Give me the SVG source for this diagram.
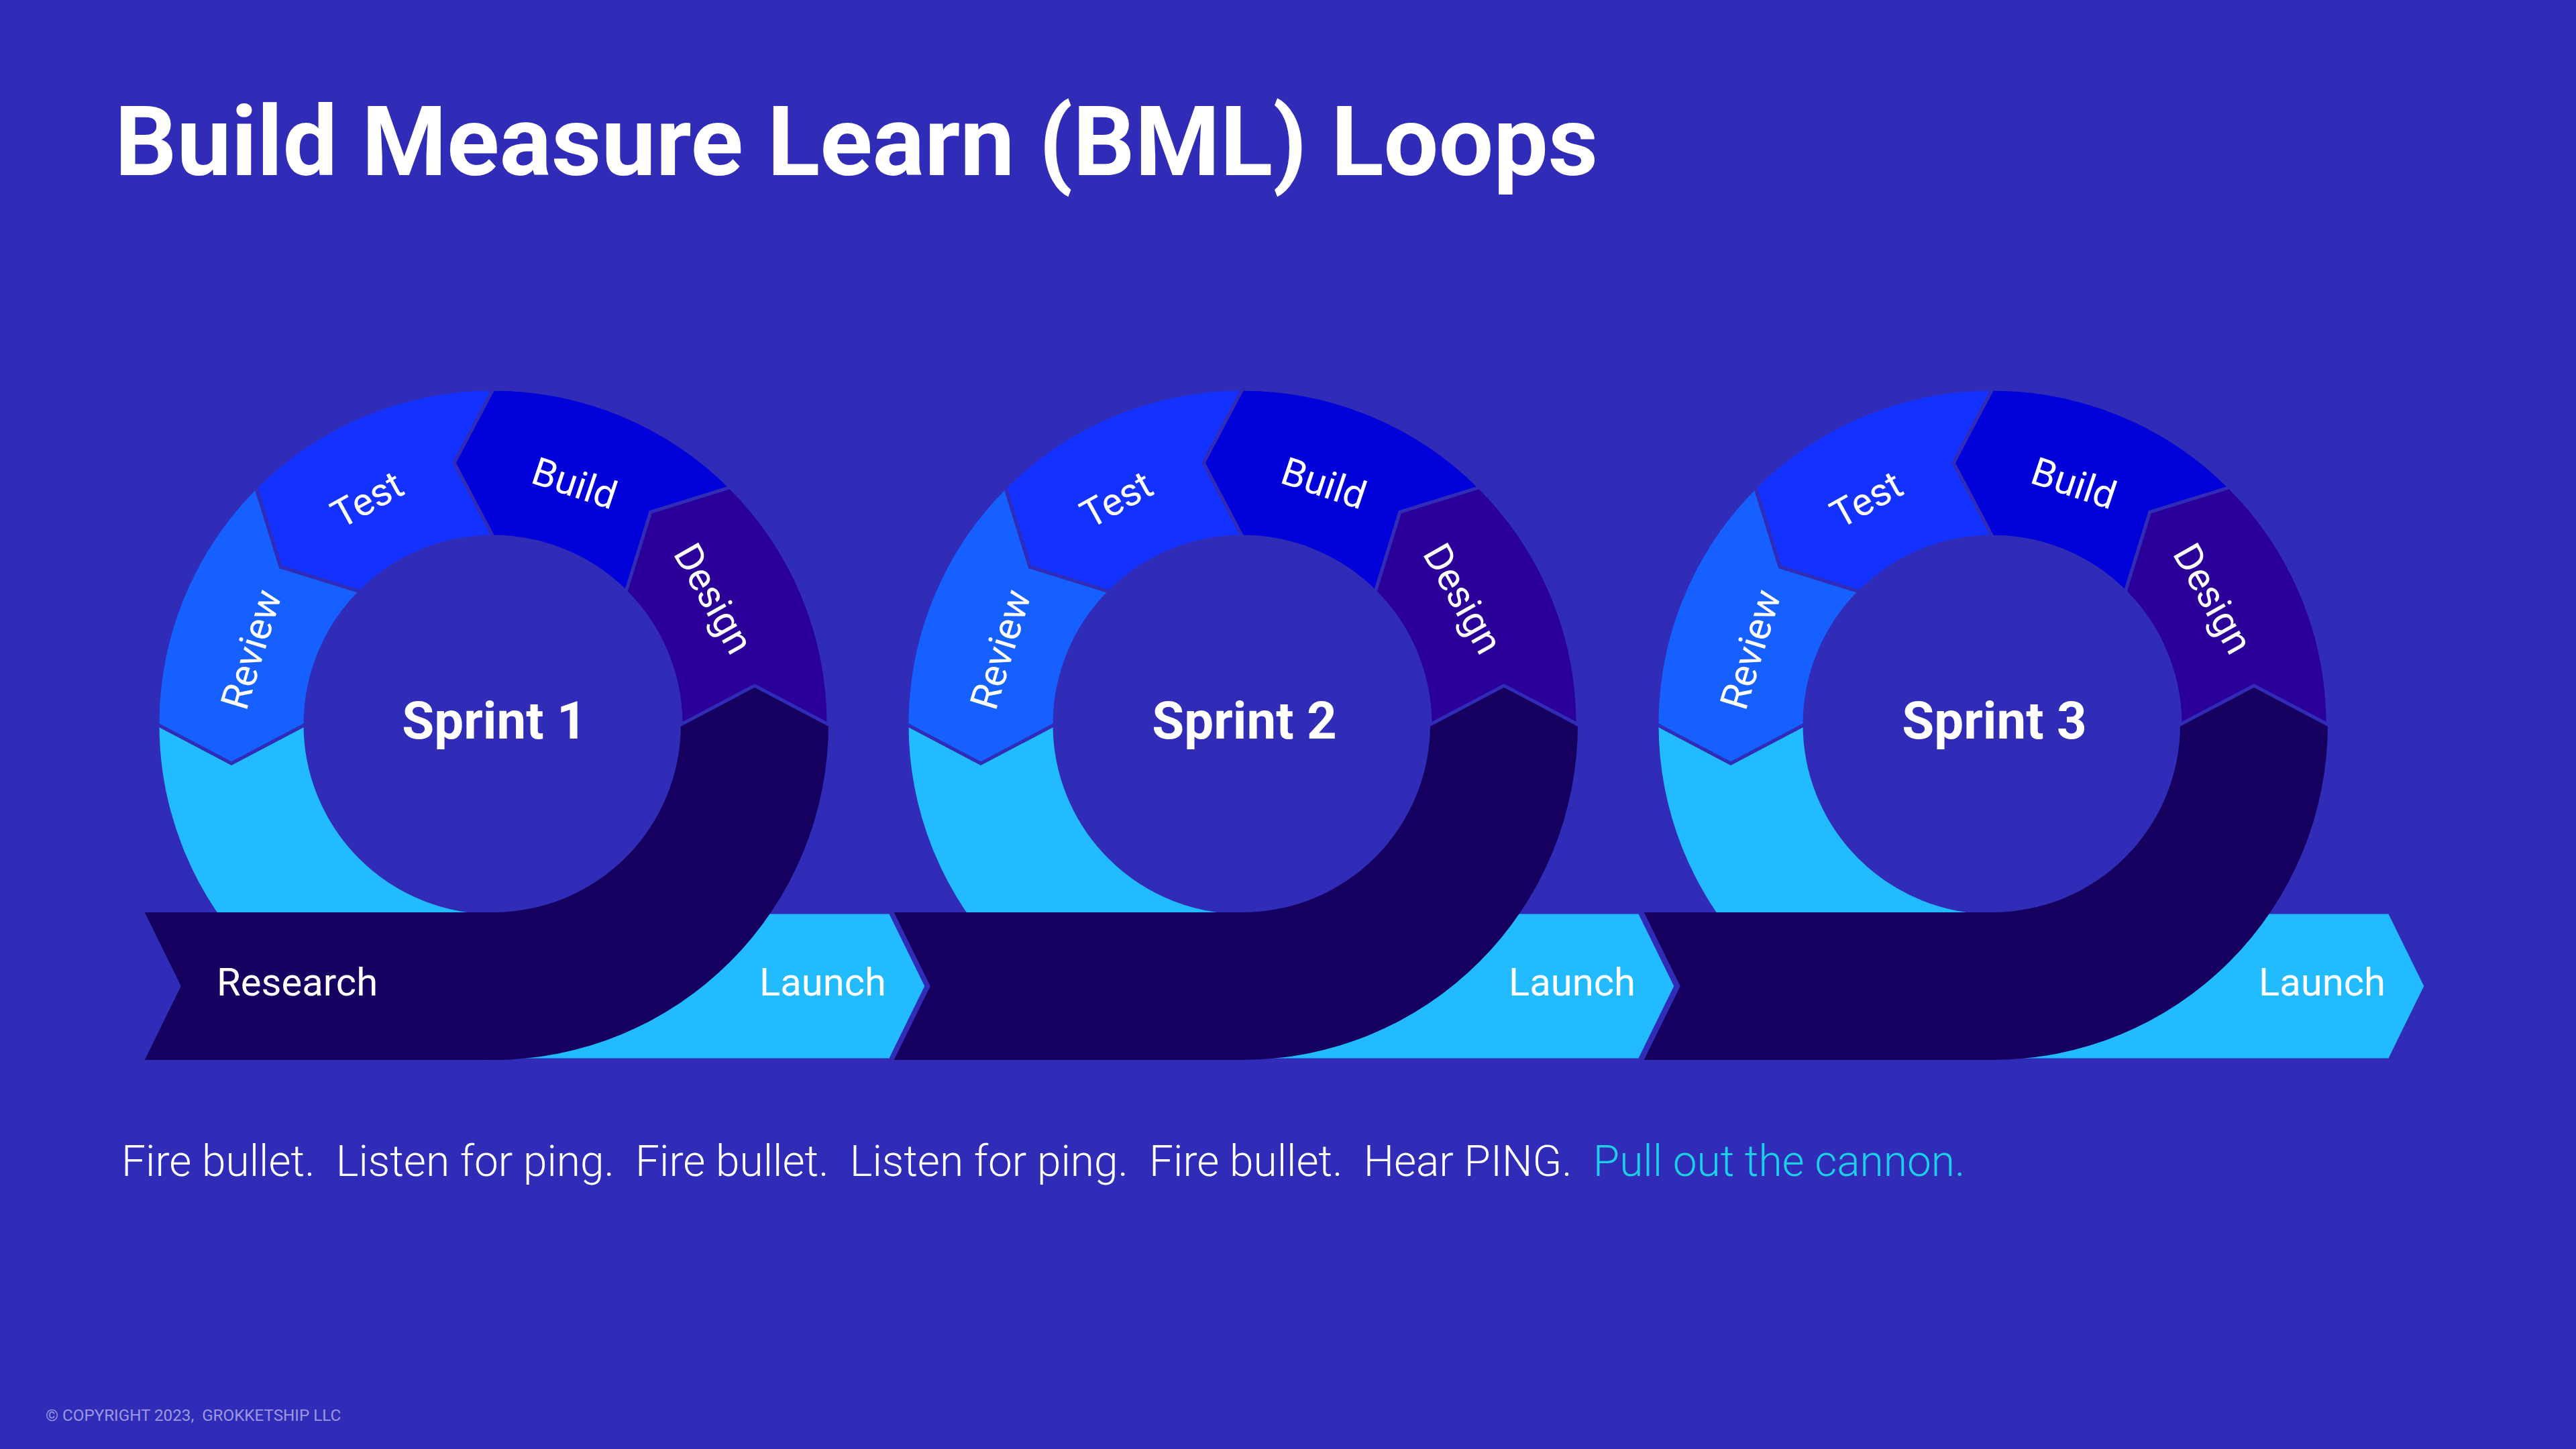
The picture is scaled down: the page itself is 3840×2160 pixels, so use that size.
<svg xmlns="http://www.w3.org/2000/svg" xmlns:xlink="http://www.w3.org/1999/xlink" width="3840" height="2160" viewBox="0 0 3840 2160">
  <style>
    .bg { fill: #302CB7; }
    .seg { stroke: #302CB7; stroke-width: 5; stroke-linejoin: miter; }
    .review { fill: #1560FF; }
    .test { fill: #1432FF; }
    .build { fill: #0000D9; }
    .design { fill: #2A0098; }
    .dark { fill: #150060; }
    .cyan { fill: #22BBFF; stroke: #302CB7; stroke-width: 5; }
    .sep { fill: none; stroke: #302CB7; stroke-width: 5; }
    .lbl { font-family: Roboto, "Liberation Sans", sans-serif; font-size: 58px; fill: #FFFFFF; text-anchor: middle; }
    .band { font-family: Roboto, "Liberation Sans", sans-serif; font-size: 58px; fill: #FFFFFF; }
    .sprint { font-family: Roboto, "Liberation Sans", sans-serif; font-size: 78px; font-weight: 700; fill: #FFFFFF; text-anchor: middle; }
  </style>
  <defs>
    <g id="loopShapes">
      <path class="cyan" d="M -500,0 A 500 500 0 0 0 0,500 L 592,500 L 646,390 L 592,280 L 0,280 A 280 280 0 0 1 -280,0 L -390,58 Z"/>
      <path class="dark" d="M -522,280 L 0,280 A 280 280 0 0 0 280,0 L 390,-58 L 500,0 A 500 500 0 0 1 0,500 L -522,500 L -468,390 Z"/>
      <path class="sep" d="M -522,280 L -468,390 L -522,500"/>
      <path class="seg design" d="M 500,0 A 500 500 0 0 0 353.55,-353.55 L 234.76,-316.78 L 197.99,-197.99 A 280 280 0 0 1 280,0 L 390,-58 Z"/>
      <path class="seg build" d="M 353.55,-353.55 A 500 500 0 0 0 0,-500 L -58,-390 L 0,-280 A 280 280 0 0 1 197.99,-197.99 L 234.76,-316.78 Z"/>
      <path class="seg test" d="M 0,-500 A 500 500 0 0 0 -353.55,-353.55 L -316.78,-234.76 L -197.99,-197.99 A 280 280 0 0 1 0,-280 L -58,-390 Z"/>
      <path class="seg review" d="M -353.55,-353.55 A 500 500 0 0 0 -500,0 L -390,58 L -280,0 A 280 280 0 0 1 -197.99,-197.99 L -316.78,-234.76 Z"/>
      <text class="lbl" transform="translate(-361,-112) rotate(-73)" y="20.6">Review</text>
      <text class="lbl" transform="translate(-188,-336) rotate(-29)" y="20.6">Test</text>
      <text class="lbl" transform="translate(122,-361) rotate(18.5)" y="21.5">Build</text>
      <text class="lbl" transform="translate(324,-185) rotate(60.5)" y="14.5">Design</text>
    </g>
  </defs>
  <rect class="bg" x="0" y="0" width="3840" height="2160"/>

  <text x="171" y="261" font-family="Roboto, 'Liberation Sans', sans-serif" font-size="145" font-weight="700" fill="#FFFFFF">Build Measure Learn (BML) Loops</text>

  <g id="connectors"></g>

  <g id="sprint1" transform="translate(735,1080)">
    <use xlink:href="#loopShapes" href="#loopShapes"/>
    <text class="sprint" x="2" y="20.5">Sprint 1</text>
    <text class="band" x="-412" y="404">Research</text>
    <text class="band" x="586" y="404" text-anchor="end">Launch</text>
  </g>

  <g id="sprint2" transform="translate(1852,1080)">
    <use xlink:href="#loopShapes" href="#loopShapes"/>
    <text class="sprint" x="3" y="20.5">Sprint 2</text>
    <text class="band" x="586" y="404" text-anchor="end">Launch</text>
  </g>

  <g id="sprint3" transform="translate(2970,1080)">
    <use xlink:href="#loopShapes" href="#loopShapes"/>
    <text class="sprint" x="3" y="20.5">Sprint 3</text>
    <text class="band" x="586" y="404" text-anchor="end">Launch</text>
  </g>

  <text x="181" y="1753" font-family="Roboto, 'Liberation Sans', sans-serif" font-size="64" font-weight="300" fill="#FFFFFF" xml:space="preserve">Fire bullet.  Listen for ping.  Fire bullet.  Listen for ping.  Fire bullet.  Hear PING.  <tspan fill="#1DCFE6">Pull out the cannon.</tspan></text>

  <text x="68" y="2118" font-family="Roboto, 'Liberation Sans', sans-serif" font-size="24.2" fill="#9C98E4" xml:space="preserve">© COPYRIGHT 2023,  GROKKETSHIP LLC</text>
</svg>
